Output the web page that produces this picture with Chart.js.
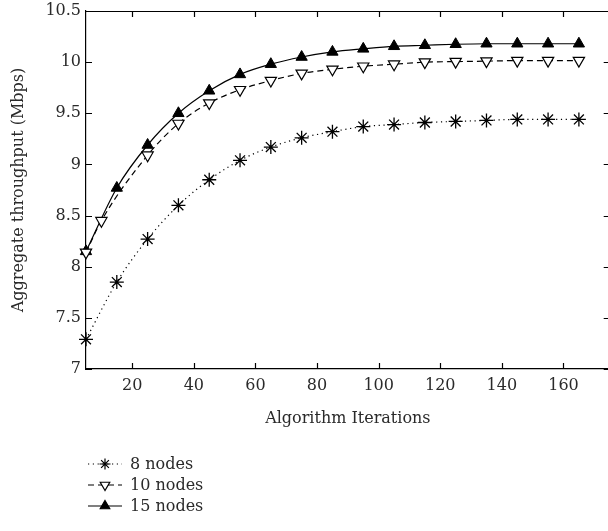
<!DOCTYPE html>
<html>
<head>
<meta charset="utf-8">
<script src="https://cdn.jsdelivr.net/npm/chart.js@4"></script>
<style>
  html, body { margin: 0; padding: 0; background: #fff; overflow: hidden; }
  #wrap { width: 608px; height: 531px; overflow: hidden; }
  canvas { display: block; }
</style>
</head>
<body>
<!-- canvas is a little wider than the window; the frame's right side runs off the edge as in the reference -->
<div id="wrap"><canvas id="chart" width="618" height="531" style="width:618px;height:531px"></canvas></div>
<script>
// iterations where each series was sampled
const iters = [5, 15, 25, 35, 45, 55, 65, 75, 85, 95, 105, 115, 125, 135, 145, 155, 165];
const iters10 = [5, 10, 25, 35, 45, 55, 65, 75, 85, 95, 105, 115, 125, 135, 145, 155, 165];

const nodes8 = [7.29, 7.85, 8.27, 8.60, 8.85, 9.04, 9.17, 9.26, 9.32, 9.37, 9.39, 9.41, 9.42, 9.43, 9.44, 9.44, 9.44];
const nodes10 = [8.14, 8.45, 9.09, 9.40, 9.60, 9.73, 9.82, 9.89, 9.93, 9.96, 9.98, 10.00, 10.005, 10.01, 10.015, 10.015, 10.015];
const nodes15 = [8.15, 8.77, 9.19, 9.50, 9.72, 9.88, 9.98, 10.05, 10.10, 10.13, 10.155, 10.165, 10.175, 10.18, 10.18, 10.18, 10.18];

const seriesNames = ['8 nodes', '10 nodes', '15 nodes'];

const FONT = 'DejaVu Serif';
const TEXT = '#2a2a2a';

function pts(xs, ys) {
  return xs.map((x, i) => ({ x: x, y: ys[i] }));
}

// inward tick marks on all four sides + top border
const frameTicks = {
  id: 'frameTicks',
  afterDatasetsDraw(chart) {
    const ctx = chart.ctx;
    const a = chart.chartArea;
    const xs = chart.scales.x, ys = chart.scales.y;
    ctx.save();
    ctx.strokeStyle = '#000';
    ctx.lineWidth = 1.2;
    ctx.beginPath();
    ctx.moveTo(a.left, a.top + 0.5);
    ctx.lineTo(a.right, a.top + 0.5);
    xs.ticks.forEach(t => {
      const px = Math.round(xs.getPixelForValue(t.value)) + 0.5;
      ctx.moveTo(px, a.bottom); ctx.lineTo(px, a.bottom - 6);
      ctx.moveTo(px, a.top); ctx.lineTo(px, a.top + 6);
    });
    ys.ticks.forEach(t => {
      const py = Math.round(ys.getPixelForValue(t.value)) + 0.5;
      ctx.moveTo(a.left, py); ctx.lineTo(a.left + 6, py);
      ctx.moveTo(a.right, py); ctx.lineTo(a.right - 6, py);
    });
    ctx.stroke();
    ctx.restore();
  }
};

// legend below the plot: line sample + marker + label
const bottomLegend = {
  id: 'bottomLegend',
  afterDraw(chart) {
    const ctx = chart.ctx;
    const x0 = 88, x1 = 122, tx = 130;
    const rows = [464, 485, 506];
    chart.data.datasets.forEach((ds, i) => {
      const y = rows[i];
      ctx.save();
      ctx.strokeStyle = '#000';
      ctx.lineWidth = ds.borderWidth;
      ctx.setLineDash(ds.borderDash || []);
      ctx.beginPath();
      ctx.moveTo(x0, y);
      ctx.lineTo(x1, y);
      ctx.stroke();
      ctx.setLineDash([]);
      ctx.fillStyle = ds.pointBackgroundColor;
      ctx.strokeStyle = '#000';
      ctx.lineWidth = 1.2;
      Chart.helpers.drawPoint(ctx, {
        pointStyle: ds.pointStyle,
        radius: 5.5,
        rotation: ds.pointRotation || 0,
        borderWidth: 1.2
      }, (x0 + x1) / 2, y);
      ctx.fillStyle = TEXT;
      ctx.font = '16px "' + FONT + '"';
      ctx.textBaseline = 'middle';
      ctx.textAlign = 'left';
      ctx.fillText(ds.label, tx, y + 1);
      ctx.restore();
    });
  }
};

new Chart(document.getElementById('chart'), {
  type: 'line',
  data: {
    datasets: [
      {
        label: seriesNames[0],
        data: pts(iters, nodes8),
        borderColor: '#000',
        borderWidth: 1.2,
        borderDash: [1.2, 3.6],
        pointStyle: 'star',
        pointRadius: 7,
        pointBorderWidth: 1.3,
        pointBackgroundColor: '#000',
        pointBorderColor: '#000',
        cubicInterpolationMode: 'monotone'
      },
      {
        label: seriesNames[1],
        data: pts(iters10, nodes10),
        borderColor: '#000',
        borderWidth: 1.2,
        borderDash: [6, 4],
        pointStyle: 'triangle',
        pointRotation: 180,
        pointRadius: 6.5,
        pointBorderWidth: 1.2,
        pointBackgroundColor: '#fff',
        pointBorderColor: '#000',
        cubicInterpolationMode: 'monotone'
      },
      {
        label: seriesNames[2],
        data: pts(iters, nodes15),
        borderColor: '#000',
        borderWidth: 1.2,
        pointStyle: 'triangle',
        pointRadius: 6.5,
        pointBorderWidth: 1,
        pointBackgroundColor: '#000',
        pointBorderColor: '#000',
        cubicInterpolationMode: 'monotone'
      }
    ]
  },
  options: {
    responsive: false,
    animation: false,
    clip: false,
    layout: { padding: { top: 11, right: 0, bottom: 103, left: 0 } },
    plugins: {
      legend: { display: false },
      tooltip: { enabled: false }
    },
    scales: {
      x: {
        type: 'linear',
        min: 5,
        max: 175,
        grid: { display: false, drawTicks: false },
        border: { display: true, color: '#000', width: 1.2 },
        ticks: {
          stepSize: 20,
          includeBounds: false,
          padding: 7,
          color: TEXT,
          font: { family: FONT, size: 16 },
          maxRotation: 0
        },
        title: {
          display: true,
          text: 'Algorithm Iterations',
          color: TEXT,
          font: { family: FONT, size: 16 },
          padding: { top: 0, bottom: 0 }
        },
        afterFit(scale) {
          scale.height = 59;
          scale.paddingLeft = 0;
          scale.paddingRight = 0;
        }
      },
      y: {
        min: 7,
        max: 10.5,
        grid: { display: false, drawTicks: false },
        border: { display: true, color: '#000', width: 1.2 },
        ticks: {
          stepSize: 0.5,
          padding: 5,
          color: TEXT,
          font: { family: FONT, size: 16 },
          callback: v => String(+v.toFixed(1))
        },
        title: {
          display: true,
          text: 'Aggregate throughput (Mbps)',
          color: TEXT,
          font: { family: FONT, size: 16 },
          padding: { top: 9, bottom: 0 }
        },
        afterFit(scale) {
          scale.width = 86;
          scale.paddingTop = 0;
          scale.paddingBottom = 0;
        }
      }
    }
  },
  plugins: [frameTicks, bottomLegend]
});
</script>
</body>
</html>
